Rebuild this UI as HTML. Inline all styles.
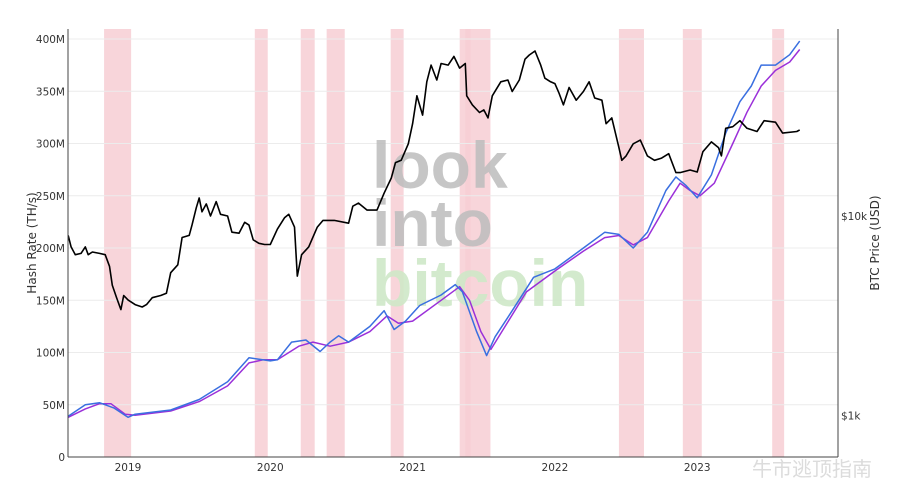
<!DOCTYPE html>
<html><head><meta charset="utf-8">
<style>
html,body{margin:0;padding:0;background:#fff;}
svg{display:block;font-family:"DejaVu Sans","Liberation Sans",sans-serif;}
</style></head>
<body>
<svg id="chart" width="900" height="482" viewBox="0 0 900 482">
  <rect x="0" y="0" width="900" height="482" fill="#fff"/>
  <g id="bands"></g>
  <g id="grid"></g>
  <g font-weight="bold" font-size="66" font-family="'Liberation Sans',sans-serif">
    <text x="372" y="188" fill="#bdbdbd" opacity="0.85">look</text>
    <text x="372" y="246" fill="#bdbdbd" opacity="0.85">into</text>
    <text x="372" y="306" fill="#cfe8c8" opacity="0.9">bitcoin</text>
  </g>
  <g id="series"></g>
  <line x1="68" y1="29" x2="68" y2="457" stroke="#444" stroke-width="1"/>
  <line x1="838" y1="29" x2="838" y2="457" stroke="#444" stroke-width="1"/>
  <line x1="68" y1="457" x2="838" y2="457" stroke="#444" stroke-width="1"/>
  <g id="yticks" font-size="10.5" fill="#333" text-anchor="end"></g>
  <g id="rticks" font-size="10.5" fill="#333"></g>
  <g id="xticks" font-size="10.5" fill="#333" text-anchor="middle"></g>
  <text transform="translate(36,243) rotate(-90)" font-size="12" fill="#333" text-anchor="middle">Hash Rate (TH/s)</text>
  <text transform="translate(879,243) rotate(-90)" font-size="12" fill="#333" text-anchor="middle">BTC Price (USD)</text>
  <text x="752" y="476" font-size="20" fill="#dcdcdc" font-family="'Liberation Sans','Noto Sans CJK SC',sans-serif">牛市逃顶指南</text>
</svg>
<script>
const bandStarts=[2018.832,2019.891,2020.214,2020.396,2020.846,2021.331,2021.371,2022.450,2022.899,2023.527];
const bandEnds=[2019.022,2019.982,2020.312,2020.523,2020.937,2021.408,2021.547,2022.626,2023.032,2023.611];
const hashTicks=[0,50,100,150,200,250,300,350,400];
const hashTickLabels=["0","50M","100M","150M","200M","250M","300M","350M","400M"];
const priceTicks=[1000,10000];
const priceTickLabels=["$1k","$10k"];
const yearTicks=[2019,2020,2021,2022,2023];
const priceDates=[2018.58,2018.60,2018.63,2018.67,2018.70,2018.72,2018.75,2018.80,2018.84,2018.87,2018.89,2018.92,2018.95,2018.97,2019.00,2019.05,2019.10,2019.13,2019.17,2019.23,2019.27,2019.30,2019.35,2019.38,2019.43,2019.45,2019.48,2019.50,2019.52,2019.55,2019.58,2019.62,2019.65,2019.70,2019.73,2019.78,2019.82,2019.85,2019.88,2019.92,2019.96,2020.00,2020.05,2020.10,2020.13,2020.17,2020.19,2020.22,2020.27,2020.33,2020.37,2020.45,2020.55,2020.58,2020.62,2020.68,2020.75,2020.80,2020.85,2020.88,2020.92,2020.97,2021.00,2021.03,2021.07,2021.10,2021.13,2021.17,2021.20,2021.25,2021.29,2021.33,2021.37,2021.38,2021.42,2021.47,2021.50,2021.53,2021.56,2021.62,2021.67,2021.70,2021.75,2021.79,2021.82,2021.86,2021.90,2021.93,2021.97,2022.00,2022.03,2022.06,2022.10,2022.15,2022.20,2022.24,2022.28,2022.33,2022.36,2022.40,2022.45,2022.47,2022.50,2022.55,2022.60,2022.65,2022.70,2022.75,2022.80,2022.85,2022.88,2022.95,2023.00,2023.04,2023.10,2023.15,2023.17,2023.20,2023.25,2023.30,2023.35,2023.42,2023.47,2023.55,2023.60,2023.70,2023.72];
const priceValues=[8000,7000,6400,6500,7000,6400,6600,6500,6400,5600,4500,3900,3400,4000,3800,3600,3500,3600,3900,4000,4100,5200,5700,7800,8000,9000,11000,12300,10500,11500,10000,11800,10200,10000,8300,8200,9300,9000,7600,7300,7200,7200,8600,9800,10200,8800,5000,6400,7000,8800,9500,9500,9200,11200,11600,10700,10700,13000,15500,18500,19000,23000,29000,40000,32000,47000,57000,48000,58000,57000,63000,55000,58000,40000,36000,33000,34000,31000,40000,47000,48000,42000,48000,61000,64000,67000,57000,49000,47000,46000,41000,36000,44000,38000,42000,47000,39000,38000,29000,31000,22000,19000,20000,23000,24000,20000,19000,19500,20500,16500,16500,17000,16600,21000,23500,22000,20000,27500,28000,30000,27500,26500,30000,29500,26000,26500,27000];
const hash30Dates=[2018.58,2018.70,2018.80,2018.90,2019.00,2019.05,2019.30,2019.50,2019.70,2019.85,2020.00,2020.05,2020.15,2020.25,2020.35,2020.42,2020.48,2020.55,2020.70,2020.80,2020.87,2020.95,2021.05,2021.20,2021.30,2021.35,2021.45,2021.52,2021.58,2021.70,2021.85,2022.00,2022.20,2022.35,2022.45,2022.55,2022.65,2022.78,2022.85,2022.92,2023.00,2023.10,2023.20,2023.30,2023.38,2023.45,2023.55,2023.65,2023.72];
const hash30Values=[39,50,52,47,38,41,45,55,72,95,92,93,110,112,101,110,116,110,125,140,122,130,145,155,165,158,120,97,115,140,172,180,200,215,213,200,215,255,268,260,248,270,310,340,355,375,375,385,398];
const hash60Dates=[2018.58,2018.70,2018.80,2018.88,2018.98,2019.05,2019.30,2019.50,2019.70,2019.85,2019.95,2020.05,2020.20,2020.30,2020.42,2020.55,2020.70,2020.82,2020.90,2021.00,2021.20,2021.33,2021.40,2021.48,2021.55,2021.65,2021.80,2022.00,2022.20,2022.35,2022.45,2022.55,2022.65,2022.80,2022.88,2022.95,2023.02,2023.12,2023.25,2023.35,2023.45,2023.55,2023.65,2023.72];
const hash60Values=[38,46,51,51,41,40,44,53,68,90,93,93,106,110,106,110,120,135,128,130,150,163,150,120,103,125,158,178,197,210,212,203,210,245,262,255,250,262,300,330,355,370,378,390];

const NS="http://www.w3.org/2000/svg";
const PX0=68,PX1=838,PY0=29,PY1=457;
function xS(t){return 128+(t-2019)*142.3;}
function yH(v){return 457-v*(418/400);}
function yP(p){return 216-(Math.log10(p)-4)*199.7;}
function mk(tag,attrs,parent){const e=document.createElementNS(NS,tag);for(const k in attrs)e.setAttribute(k,attrs[k]);parent.appendChild(e);return e;}

const bands=document.getElementById('bands');
for(let i=0;i<bandStarts.length;i++){
  const r=mk('rect',{x:xS(bandStarts[i]),y:PY0,width:xS(bandEnds[i])-xS(bandStarts[i]),height:PY1-PY0,fill:'#f7ced3',opacity:0.85},bands);
  
  
}
const grid=document.getElementById('grid'),yt=document.getElementById('yticks');
for(let i=0;i<hashTicks.length;i++){
  const y=yH(hashTicks[i]);
  if(hashTicks[i]>0){const l=mk('line',{x1:PX0,x2:PX1,y1:y,y2:y,stroke:'#ececec','stroke-width':1},grid);
  
  }
  const t=mk('text',{x:65,y:y+4},yt);t.textContent=hashTickLabels[i];
  
  
}
const rt=document.getElementById('rticks');
for(let i=0;i<priceTicks.length;i++){
  const t=mk('text',{x:841,y:yP(priceTicks[i])+4},rt);t.textContent=priceTickLabels[i];
  
  
}
const xt=document.getElementById('xticks');
for(let i=0;i<yearTicks.length;i++){
  const t=mk('text',{x:xS(yearTicks[i]),y:471},xt);t.textContent=String(yearTicks[i]);
  
  
}
function line(dates,vals,yf,color,w,name){
  const d=dates.map((t,i)=>(i?'L':'M')+xS(t).toFixed(1)+','+yf(vals[i]).toFixed(1)).join('');
  const p=mk('path',{d:d,fill:'none',stroke:color,'stroke-width':w,'stroke-linejoin':'round'},document.getElementById('series'));
  
  
}
line(hash60Dates,hash60Values,yH,'#9b30d9',1.5,'hash-rate-60d-ma');
line(hash30Dates,hash30Values,yH,'#3a6fe0',1.5,'hash-rate-30d-ma');
line(priceDates,priceValues,yP,'#000',1.6,'btc-price-line');
</script>
</body></html>
